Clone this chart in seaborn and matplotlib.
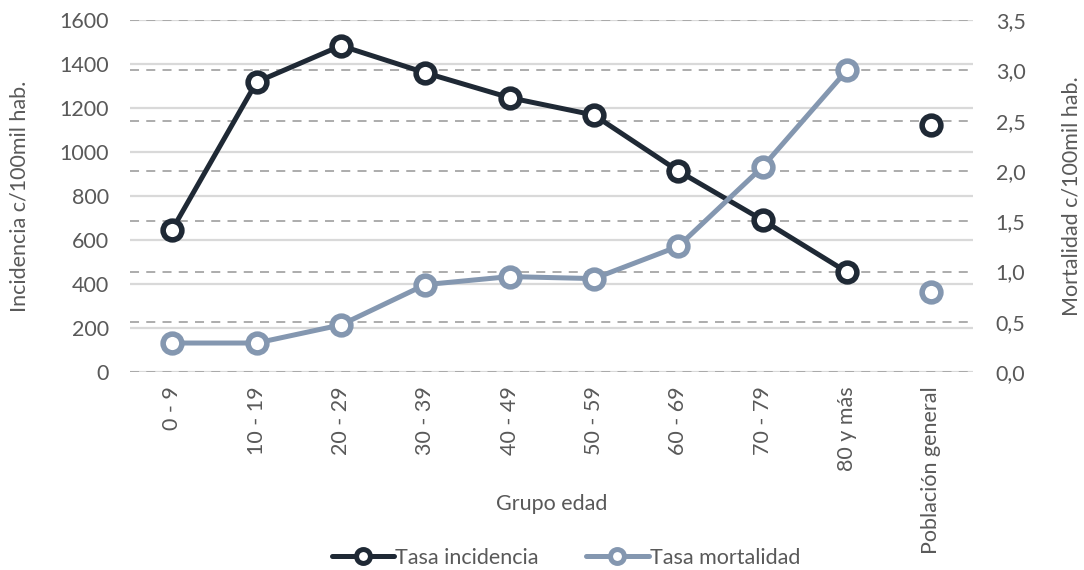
import matplotlib
matplotlib.use("Agg")
import matplotlib.pyplot as plt
import numpy as np
import pandas as pd
import seaborn as sns

# --- data ---
grupos = ["0 - 9", "10 - 19", "20 - 29", "30 - 39", "40 - 49", "50 - 59",
          "60 - 69", "70 - 79", "80 y más", "Población general"]
incidencia = [648, 1318, 1483, 1360, 1247, 1168, 914, 691, 455, 1125]
mortalidad = [0.29, 0.29, 0.47, 0.87, 0.95, 0.93, 1.25, 2.04, 3.00, 0.80]
ticks_izq = [0, 200, 400, 600, 800, 1000, 1200, 1400, 1600]
ticks_der = [0.0, 0.5, 1.0, 1.5, 2.0, 2.5, 3.0, 3.5]

df = pd.DataFrame({"grupo": grupos, "pos": np.arange(len(grupos)),
                   "incidencia": incidencia, "mortalidad": mortalidad})
edades = df.iloc[:-1]
general = df.iloc[-1:]

sns.set_theme(style="white")
plt.rcParams["font.family"] = ["Lato", "DejaVu Sans"]

C_INC = "#1f2935"
C_MORT = "#8497b0"
C_TXT = "#595959"
FS = 15.5

fig = plt.figure(figsize=(10.84, 5.70), dpi=100)
ax1 = fig.add_axes([0.12, 0.347, 0.778, 0.618])
ax2 = ax1.twinx()   # right scale, dashed grid
ax3 = ax1.twinx()   # incidencia data
ax4 = ax1.twinx()   # mortalidad data

mk = dict(marker="o", markersize=13.5, markeredgewidth=4, markerfacecolor="white")

sns.lineplot(data=edades, x="pos", y="incidencia", ax=ax3, color=C_INC, lw=3.6,
             markeredgecolor=C_INC, **mk)
ax3.plot(general["pos"], general["incidencia"], ls="none", color=C_INC,
         markeredgecolor=C_INC, **mk)
sns.lineplot(data=edades, x="pos", y="mortalidad", ax=ax4, color=C_MORT, lw=3.6,
             markeredgecolor=C_MORT, **mk)
ax4.plot(general["pos"], general["mortalidad"], ls="none", color=C_MORT,
         markeredgecolor=C_MORT, **mk)

for a in (ax1, ax3):
    a.set_ylim(0, 1600)
for a in (ax2, ax4):
    a.set_ylim(0, 3.5)
for a in (ax1, ax2, ax3, ax4):
    for s in a.spines.values():
        s.set_visible(False)
for a in (ax2, ax3, ax4):
    a.patch.set_visible(False)
    a.set_xlabel("")
    a.set_ylabel("")
for a in (ax3, ax4):
    a.set_yticks([])
    a.tick_params(axis="y", length=0)

# grids
ax1.set_yticks(ticks_izq)
ax1.yaxis.grid(True, color="#d9d9d9", lw=1.6, ls="-")
ax2.set_yticks(ticks_der)
ax2.yaxis.grid(True, color="#a6a6a6", lw=1.3, ls=(0, (5, 4)))
ax2.set_yticklabels([f"{v:.1f}".replace(".", ",") for v in ticks_der])

ax1.tick_params(axis="y", length=0, labelsize=FS, labelcolor=C_TXT, pad=15)
ax2.tick_params(axis="y", length=0, labelsize=FS, labelcolor=C_TXT, pad=16)

ax1.set_xticks(df["pos"])
ax1.set_xticklabels(grupos, rotation=90)
ax1.set_xlim(-0.5, len(grupos) - 0.5)
ax1.tick_params(axis="x", length=0, labelsize=FS, labelcolor=C_TXT, pad=10)

ax1.set_xlabel("Grupo edad", fontsize=FS, color=C_TXT)
ax1.xaxis.set_label_coords(0.5, -0.345)
ax1.set_ylabel("Incidencia c/100mil hab.", fontsize=FS, color=C_TXT, labelpad=22)
ax2.set_ylabel("Mortalidad c/100mil hab.", fontsize=FS, color=C_TXT, labelpad=26)

# legend keys are drawn smaller than the plotted markers
mk_leg = dict(marker="o", markersize=10, markeredgewidth=3.6, markerfacecolor="white")
h_inc = plt.Line2D([], [], color=C_INC, lw=3.6, markeredgecolor=C_INC, **mk_leg)
h_mort = plt.Line2D([], [], color=C_MORT, lw=3.6, markeredgecolor=C_MORT, **mk_leg)
fig.legend([h_inc, h_mort], ["Tasa incidencia", "Tasa mortalidad"],
           loc="lower center", bbox_to_anchor=(0.522, -0.03), ncol=2, frameon=False,
           fontsize=FS, labelcolor=C_TXT, handlelength=2.9, handletextpad=0.05,
           columnspacing=2.2)

fig.savefig("out.png", dpi=100)
